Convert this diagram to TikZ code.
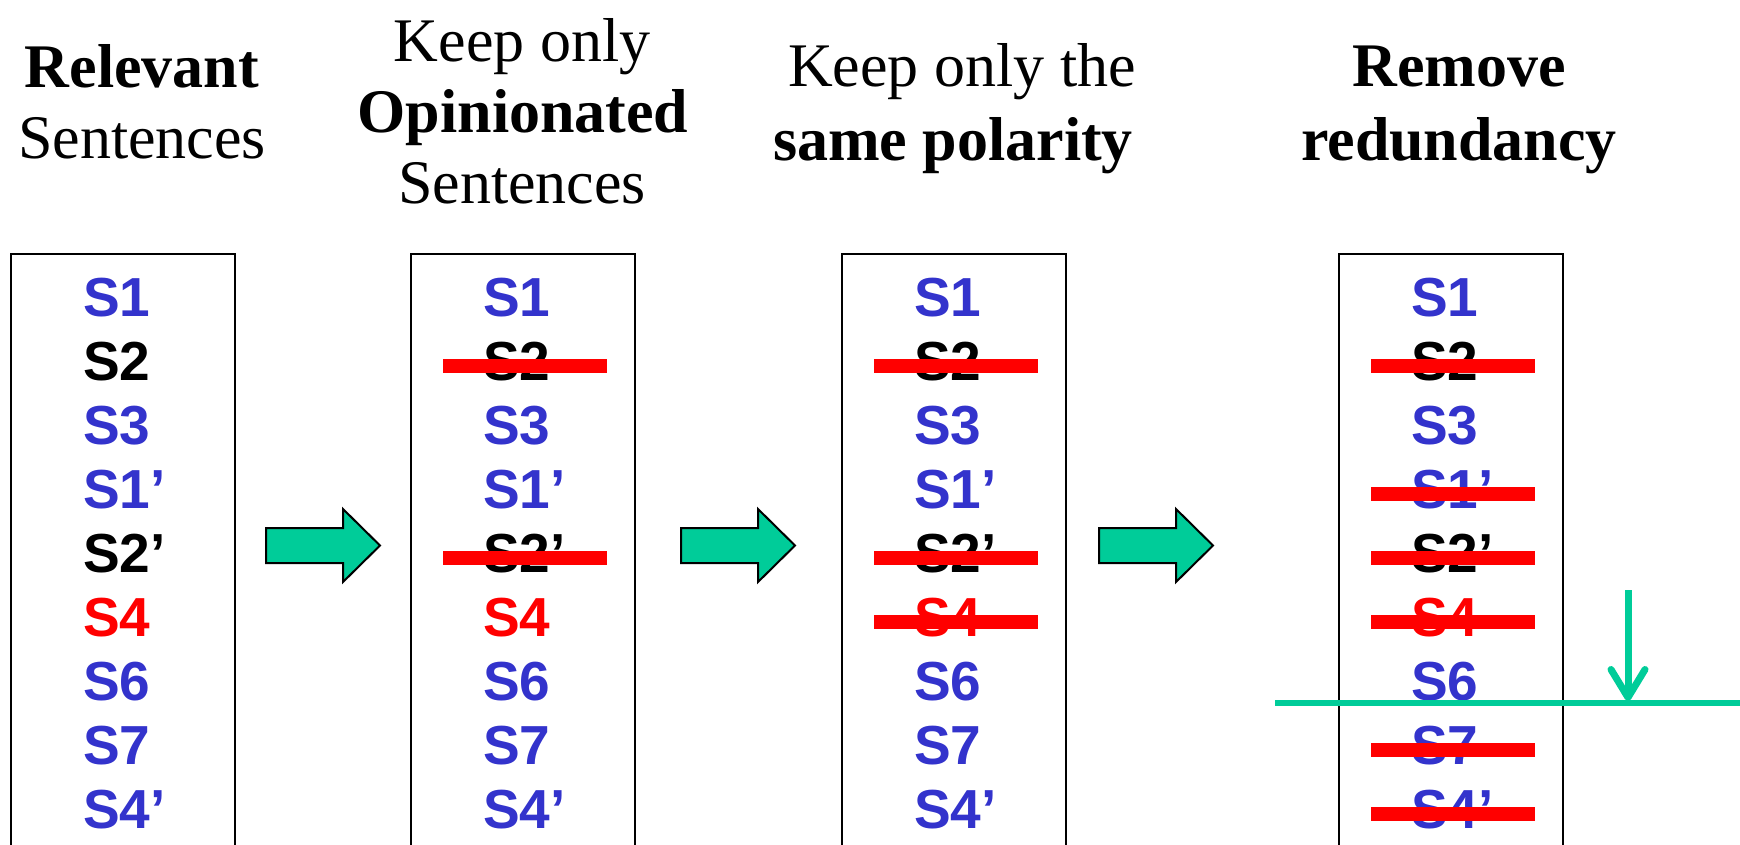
\documentclass[tikz,border=0pt]{standalone}
\usepackage{fontspec}
\setmainfont{Liberation Serif}
\newfontfamily\labelfont{Liberation Sans}
\usetikzlibrary{arrows.meta}
\definecolor{sblue}{RGB}{51,51,204}
\definecolor{sred}{RGB}{255,0,0}
\definecolor{sgreen}{RGB}{0,204,153}
\begin{document}
\begin{tikzpicture}[x=1pt,y=-1pt,
  hdr/.style={font=\fontsize{62}{71}\selectfont, inner sep=0pt, anchor=base},
  sl/.style={font=\labelfont\bfseries\fontsize{55}{60}\selectfont, inner sep=0pt, anchor=base west},
  listbox/.style={draw=black, line width=2.3pt, inner sep=0pt, outer sep=0pt, minimum width=224pt, minimum height=600pt, anchor=north west},
  strike/.style={fill=sred, draw=none},
  blockarrow/.style={fill=sgreen, draw=black, line width=2pt, line join=miter},
  cutline/.style={draw=sgreen, line width=6pt},
  cutarrow/.style={draw=sgreen, line width=7pt, -{Straight Barb[length=28pt 0 0, width=34pt 0 0, round]}},
]
\useasboundingbox (0,0) rectangle (1740,844);

% headers
\node[hdr] (h1a) at (142,87) {\textbf{Relevant}};
\node[hdr] (h1b) at (142,158) {Sentences};
\node[hdr] (h2a) at (522,61) {Keep only};
\node[hdr] (h2b) at (523,132) {\textbf{Opinionated}};
\node[hdr] (h2c) at (522,203) {Sentences};
\node[hdr] (h3a) at (962,86) {Keep only the};
\node[hdr] (h3b) at (953,160) {\textbf{same polarity}};
\node[hdr] (h4a) at (1459,86) {\textbf{Remove}};
\node[hdr] (h4b) at (1459,160) {\textbf{redundancy}};

% boxes and labels
\foreach \bx [count=\b] in {11,411,842,1339} {
  \node[listbox] (box\b) at (\bx,254) {};
  \foreach \t/\c [count=\r from 0] in {S1/sblue, S2/black, S3/sblue, S1’/sblue, S2’/black, S4/sred, S6/sblue, S7/sblue, S4’/sblue} {
    \node[sl, text=\c] (b\b r\r) at (\bx+72, 316+64*\r) {\t};
  }
}

% strike-through bars
\foreach \bx/\r in {411/1,411/4,842/1,842/4,842/5,1339/1,1339/3,1339/4,1339/5,1339/7,1339/8}
  \fill[strike] (\bx+32, 316+64*\r-21) rectangle (\bx+196, 316+64*\r-7);

% block arrows
\foreach \x in {266,681,1099}
  \draw[blockarrow] (\x,528) -- (\x+77,528) -- (\x+77,509) -- (\x+114,545.5)
     -- (\x+77,582) -- (\x+77,563) -- (\x,563) -- cycle;

% cut line and arrow
\coordinate (gl) at (1275,703);
\coordinate (gr) at (1740,703);
\draw[cutline] (gl) -- (gr);
\coordinate (dtop) at (1628,590);
\coordinate (dtip) at (1628,701);
\draw[cutarrow] (dtop) -- (dtip);
\end{tikzpicture}
\end{document}
